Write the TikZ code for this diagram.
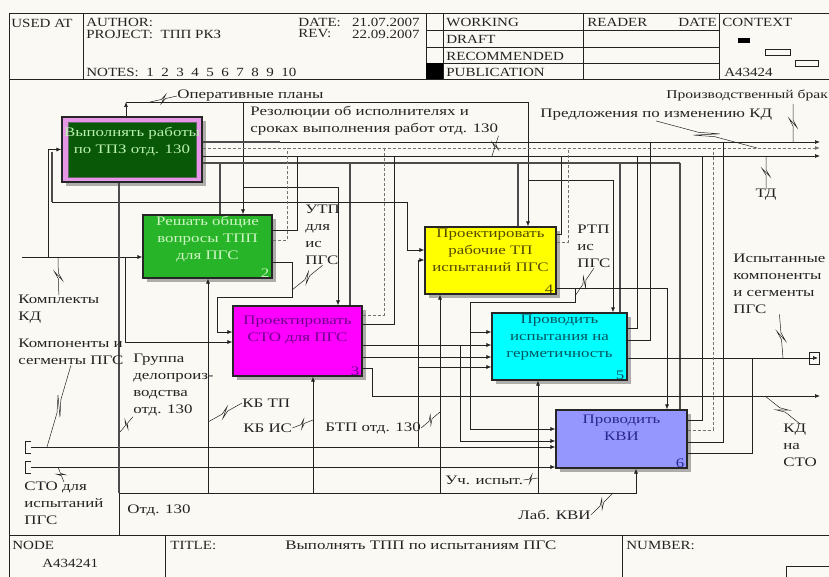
\documentclass[tikz,border=0pt]{standalone}
\usepackage{fontspec}
\setmainfont{Liberation Serif}[FakeStretch=1.2]
\newfontfamily\lblfont{Liberation Serif}[FakeStretch=1.3]
\usetikzlibrary{arrows.meta,calc,shadows}

\definecolor{paper}{RGB}{251,249,243}
\definecolor{ink}{RGB}{35,35,35}
\definecolor{pinkband}{RGB}{230,150,230}
\definecolor{darkgrn}{RGB}{8,88,8}
\definecolor{grnbox}{RGB}{40,180,40}
\definecolor{magbox}{RGB}{255,0,255}
\definecolor{yelbox}{RGB}{255,255,0}
\definecolor{cyanbox}{RGB}{0,255,255}
\definecolor{lavbox}{RGB}{150,150,255}
\definecolor{txtone}{RGB}{185,240,175}
\definecolor{txttwo}{RGB}{205,245,195}
\definecolor{txtthree}{RGB}{110,0,140}
\definecolor{txtfour}{RGB}{85,75,0}
\definecolor{txtfive}{RGB}{0,85,95}
\definecolor{txtsix}{RGB}{40,40,140}

% leader line with the zigzag
\newcommand{\squig}[2]{\draw[line width=0.5pt] (#1) -- ($(#1)!.42!(#2)$) -- ($(#1)!.62!(#2)!4pt!90:(#2)$) -- ($(#1)!.38!(#2)!4pt!-90:(#2)$) -- ($(#1)!.58!(#2)$) -- (#2);}

\begin{document}
\begin{tikzpicture}[x=1pt, y=-1pt, color=ink, line width=0.7pt,
	>={Latex[length=5pt,width=4pt]},
	every node/.style={font=\lblfont\fontsize{13}{17}\selectfont, inner sep=0pt},
	lbl/.style={anchor=west, align=left},
	hdr/.style={anchor=west, font=\fontsize{12.5}{17}\selectfont},
	thickln/.style={black!70, line width=2.6pt},
	dashln/.style={black!55, densely dashed, line width=0.8pt},
	act/.style={draw=black!85, line width=1.2pt, drop shadow={shadow xshift=4pt, shadow yshift=-4pt, fill=black, opacity=.3}},
	boxtxt/.style={anchor=north, align=center},
	num/.style={anchor=south east}]

	\fill[paper] (0,0) rectangle (829,577);
	\useasboundingbox (0,0) rectangle (829,577);

	% frame, header, footer
	\draw (9,590) -- (9,13) -- (840,13);
	\draw (9,79) -- (840,79);
	\draw (9,535) -- (840,535);
	\draw (83,13) -- (83,79);
	\draw (426,13) -- (426,79);
	\draw (443,13) -- (443,79);
	\draw (583,13) -- (583,79);
	\draw (719,13) -- (719,79);
	\draw (426,30) -- (719,30) (426,47) -- (719,47) (426,63) -- (719,63);
	\fill[black] (426,63) rectangle (443,79);
	\fill[black] (738,38) rectangle (750,43);
	\draw[line width=0.6pt] (765,49) rectangle (790,55) (795,60) rectangle (818,66);
	\draw (165,535) -- (165,590);
	\draw (622,535) -- (622,590);
	\draw (786,566) rectangle (840,590);

	\node[hdr] (usedat) at (11,23) {USED AT};
	\node[hdr] (author) at (86,22) {AUTHOR:};
	\node[hdr] (project) at (86,34) {PROJECT:\ \ ТПП РКЗ};
	\node[hdr] (date) at (298,22) {DATE:};
	\node[hdr, anchor=east] (dateval) at (420,22) {21.07.2007};
	\node[hdr] (rev) at (298,34) {REV:};
	\node[hdr, anchor=east] (revval) at (420,34) {22.09.2007};
	\node[hdr] (notes) at (86,72) {NOTES:\ \ 1\ \ 2\ \ 3\ \ 4\ \ 5\ \ 6\ \ 7\ \ 8\ \ 9\ \ 10};
	\node[hdr] (working) at (446,22) {WORKING};
	\node[hdr] (draft) at (446,39) {DRAFT};
	\node[hdr] (recom) at (446,56) {RECOMMENDED};
	\node[hdr] (publ) at (446,72) {PUBLICATION};
	\node[hdr] (reader) at (587,22) {READER};
	\node[hdr, anchor=east] (rdate) at (717,22) {DATE};
	\node[hdr] (context) at (722,22) {CONTEXT};
	\node[hdr] (ctxnode) at (724,72) {A43424};
	\node[hdr] (nodelbl) at (12,545) {NODE};
	\node[hdr] (nodeval) at (42,563) {A434241};
	\node[hdr] (titlelbl) at (170,545) {TITLE:};
	\node[lbl] (titleval) at (285,545) {Выполнять ТПП по испытаниям ПГС};
	\node[hdr] (numlbl) at (626,545) {NUMBER:};

	% activity boxes
	\node[act, fill=pinkband, minimum width=140, minimum height=65] (b1o) at (132,149.5) {};
	\node[draw=black!60, fill=darkgrn, minimum width=128, minimum height=55] (b1) at (b1o.center) {};
	\node[boxtxt, text=txtone] (t1) at ($(b1.north)+(0,5)$) {Выполнять работы\\по ТПЗ отд. 130};

	\node[act, fill=grnbox, minimum width=129, minimum height=63] (b2) at (207.5,246.5) {};
	\node[boxtxt, text=txttwo] (t2) at ($(b2.north)+(0,1)$) {Решать общие\\вопросы ТПП\\для ПГС};
	\node[num, text=txttwo] (n2) at ($(b2.south east)+(-3,-1)$) {2};

	\node[act, fill=magbox, minimum width=129, minimum height=70] (b3) at (297.5,341) {};
	\node[boxtxt, text=txtthree] (t3) at ($(b3.north)+(0,10)$) {Проектировать\\СТО для ПГС};
	\node[num, text=txtthree] (n3) at ($(b3.south east)+(-3,-1)$) {3};

	\node[act, fill=yelbox, minimum width=131, minimum height=67] (b4) at (490.5,260.5) {};
	\node[boxtxt, text=txtfour] (t4) at ($(b4.north)+(0,2)$) {Проектировать\\рабочие ТП\\испытаний ПГС};
	\node[num, text=txtfour] (n4) at ($(b4.south east)+(-3,-1)$) {4};

	\node[act, fill=cyanbox, minimum width=135, minimum height=67] (b5) at (559.5,346.5) {};
	\node[boxtxt, text=txtfive] (t5) at ($(b5.north)+(0,2)$) {Проводить\\испытания на\\герметичность};
	\node[num, text=txtfive] (n5) at ($(b5.south east)+(-3,-1)$) {5};

	\node[act, fill=lavbox, minimum width=131, minimum height=58] (b6) at (621.5,439) {};
	\node[boxtxt, text=txtsix] (t6) at ($(b6.north)+(0,5)$) {Проводить\\КВИ};
	\node[num, text=txtsix] (n6) at ($(b6.south east)+(-3,-1)$) {6};

	% boundary points
	\coordinate (op) at (126,102);
	\coordinate (e1) at (820,142);
	\coordinate (e2) at (820,148);
	\coordinate (e3) at (820,156);
	\coordinate (kd) at (22,257);
	\coordinate (ks) at (31,447);
	\coordinate (sto) at (31,467);
	\coordinate (isp) at (818,358);
	\coordinate (kdout) at (820,396);
	\coordinate (otd) at (119,535);

	% controls
	\draw[->] (op |- b1o.north) -- (op);
	\draw[->] (op) -- (528,102) -- (528,0 |- b4.north);
	\draw[->] (243,102) -- (243,0 |- b2.north);
	\draw[->] (243,187) -- (338,187) -- (338,0 |- b3.north);
	\draw[->] (528,180) -- (613,180) -- (613,0 |- b5.north);

	% outputs of box 1
	\draw[thickln] (e1 -| b1o.east) -- (280,142);
	\draw[->] (280,142) -- (e1);
	\draw[dashln, ->] (e2 -| b1o.east) -- (e2);
	\draw[->] (e3 -| b1o.east) -- (e3);
	\draw[thickln] (b1o.east |- 0,163) -- (680,163);
	\draw[thickln] (220,163) -- (220,0 |- b2.north);
	\draw[thickln] (350,163) -- (350,0 |- b3.north);
	\draw[thickln] (518,163) -- (518,0 |- b4.north);
	\draw[thickln] (620,163) -- (620,0 |- b5.north);
	\draw[thickln] (680,163) -- (680,0 |- b6.north);

	% inputs from the left
	\draw[->] (kd) -- (kd -| b2.west);
	\draw[->] (48,257) |- (b1o.west);
	\draw[thickln] (52,152) -- (52,202);
	\draw[->] (52,202) -- (407,202) -- (407,250) -- (b4.west |- 0,250);
	\draw[->] (125,257) -- (125,342) -- (b3.west |- 0,342);
	\draw[->] (ks) -- (b6.west |- ks);
	\draw[->] (sto) -- (b6.west |- sto);
	\draw (31,441) -- (25,441) -- (25,453) -- (31,453);
	\draw (31,461) -- (25,461) -- (25,473) -- (31,473);

	% mechanisms
	\draw[thickln] (119,493) -- (119,0 |- b1o.south);
	\draw (119,493) -- (otd);
	\draw[->] (119,493) -- (636,493) -- (636,0 |- b6.south);
	\draw[->] (208,493) -- (208,0 |- b2.south);
	\draw[->] (313,493) -- (313,0 |- b3.south);
	\draw[->] (440,493) -- (440,0 |- b4.south);
	\draw[->] (538,493) -- (538,0 |- b5.south);

	% box 2
	\draw[dashln] (b2.east |- 0,240) -- (287,240) -- (287,148);
	\draw (b2.east |- 0,230) -- (297,230) -- (297,156);
	\draw[->] (b2.east |- 0,262) -- (292,262) -- (292,297) -- (217,297) -- (217,332) -- (b3.west |- 0,332);

	% box 3
	\draw[dashln] (b3.east |- 0,315) -- (384,315) -- (384,148);
	\draw (b3.east |- 0,324) -- (394,324) -- (394,156);
	\draw[->] (b3.east |- 0,345) -- (b5.west |- 0,345);
	\draw[->] (b3.east |- 0,357) -- (b5.west |- 0,357);
	\draw[->] (b3.east |- 0,368) -- (372,368) -- (372,396) -- (kdout);
	\draw[->] (460,345) -- (460,441) -- (b6.west |- 0,441);
	\draw[->] (418,447) -- (418,260) -- (b4.west |- 0,260);
	\draw[->] (418,367) -- (b5.west |- 0,367);

	% box 4
	\draw (b4.east |- 0,234) -- (561,234) -- (561,156);
	\draw[dashln] (b4.east |- 0,242) -- (568,242) -- (568,148);
	\draw[->] (b4.east |- 0,288) -- (667,288) -- (667,0 |- b6.north);
	\draw[->] (575,288) -- (575,302) -- (470,302) -- (470,429) -- (b6.west |- 0,429);
	\draw[->] (470,332) -- (b5.west |- 0,332);

	% box 5
	\draw (b5.east |- 0,328) -- (637,328) -- (637,156);
	\draw (b5.east |- 0,340) -- (650,340) -- (650,142);
	\draw[->] (b5.east |- isp) -- (isp);
	\draw (809,352) rectangle (819,364);

	% box 6
	\draw (b6.east |- 0,420) -- (702,420) -- (702,156);
	\draw[dashln] (b6.east |- 0,430) -- (713,430) -- (713,148);
	\draw (b6.east |- 0,442) -- (723,442) -- (723,142);
	\draw (b6.east |- 0,453) -- (752,453) -- (752,358);

	% arrow labels
	\node[lbl] (opl) at (177,96) {Оперативные планы};
	\node[lbl, anchor=north west] (rez) at (250,106) {Резолюции об исполнителях и\\сроках выполнения работ отд. 130};
	\node[lbl, font=\lblfont\fontsize{12}{17}\selectfont] (brak) at (666,95) {Производственный брак};
	\node[lbl] (pred) at (540,115) {Предложения по изменению КД};
	\node (td) at (766,195) {ТД};
	\node[lbl, anchor=north west] (utp) at (305,205) {УТП\\для\\ис\\ПГС};
	\node[lbl, anchor=north west] (rtp) at (577,225) {РТП\\ис\\ПГС};
	\node[lbl, anchor=north west] (ispyt) at (733,254) {Испытанные\\компоненты\\и сегменты\\ПГС};
	\node[lbl, anchor=north west] (komkd) at (18,295) {Комплекты\\КД};
	\node[lbl, anchor=north west] (komp) at (18,339) {Компоненты и\\сегменты ПГС};
	\node[lbl, anchor=north west] (grp) at (133,354) {Группа\\делопроиз-\\водства\\отд. 130};
	\node[lbl] (kbtp) at (242,403) {КБ ТП};
	\node[lbl] (kbis) at (243,428) {КБ ИС};
	\node[lbl] (btp) at (325,428) {БТП отд. 130};
	\node[lbl] (uch) at (445,480) {Уч. испыт.};
	\node[lbl] (lab) at (518,515) {Лаб. КВИ};
	\node[lbl, anchor=north west] (kdsto) at (783,424) {КД\\на\\СТО};
	\node[lbl, anchor=north west] (stoisp) at (24,482) {СТО для\\испытаний\\ПГС};
	\node[lbl] (otdl) at (127,510) {Отд. 130};

	% leader ends
	\coordinate (sqop) at (150,102);
	\coordinate (sqrez) at (492,156);
	\coordinate (sqpred) at (757,148);
	\coordinate (sqbraktop) at (793,104);
	\coordinate (sqbrak) at (793,142);
	\coordinate (sqtd) at (766,156);
	\coordinate (squtp) at (292,290);
	\coordinate (sqrtp) at (575,296);
	\coordinate (sqisp) at (783,358);
	\coordinate (sqkd) at (58,257);
	\coordinate (sqkomp) at (47,447);
	\coordinate (sqgrp) at (120,432);
	\coordinate (sqkbtp) at (208,422);
	\coordinate (sqkbis) at (313,420);
	\coordinate (sqbtp) at (440,412);
	\coordinate (squch) at (538,478);
	\coordinate (sqlab) at (613,493);
	\coordinate (sqkdsto) at (765,396);
	\coordinate (sqsto) at (58,467);

	\squig{opl.west}{sqop}
	\squig{rez.south east}{sqrez}
	\squig{pred.south}{sqpred}
	\squig{sqbraktop}{sqbrak}
	\squig{td.north}{sqtd}
	\squig{utp.south}{squtp}
	\squig{rtp.south}{sqrtp}
	\squig{ispyt.south}{sqisp}
	\squig{komkd.north}{sqkd}
	\squig{komp.south}{sqkomp}
	\squig{grp.south west}{sqgrp}
	\squig{kbtp.west}{sqkbtp}
	\squig{kbis.east}{sqkbis}
	\squig{btp.east}{sqbtp}
	\squig{uch.east}{squch}
	\squig{lab.east}{sqlab}
	\squig{kdsto.north}{sqkdsto}
	\squig{stoisp.north}{sqsto}
\end{tikzpicture}
\end{document}
